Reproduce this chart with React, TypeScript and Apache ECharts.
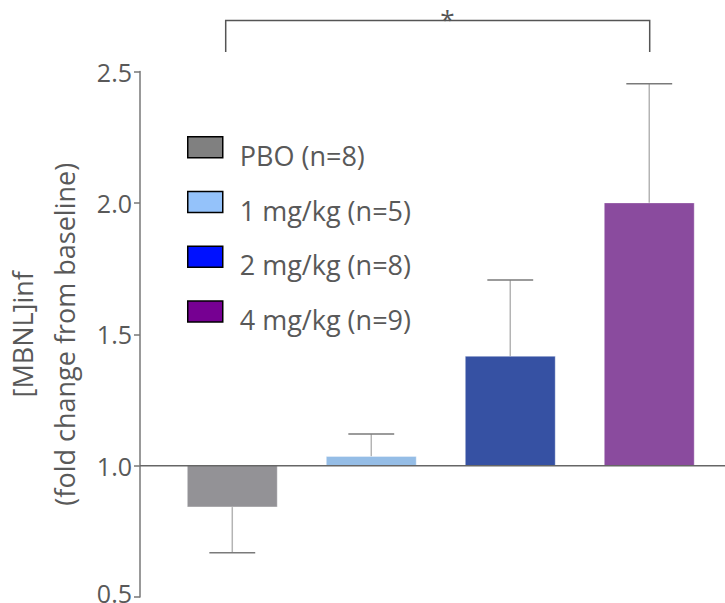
import React, { useEffect, useRef } from "react";
import * as echarts from "echarts";

const GROUPS = ["PBO (n=8)", "1 mg/kg (n=5)", "2 mg/kg (n=8)", "4 mg/kg (n=9)"];
const MEANS = [0.843, 1.035, 1.416, 2.0];
const ERRORS = [0.175, 0.085, 0.29, 0.453];
const BAR_COLORS = ["#939296", "#95bde6", "#3651a3", "#8a4b9e"];
const LEGEND_COLORS = ["#808080", "#94c2fa", "#0011ff", "#760092"];
const BASELINE = 1.0;
const Y_MIN = 0.5;
const Y_MAX = 2.5;
const Y_STEP = 0.5;
const X_MIN = -0.664;
const X_MAX = 3.545;

const FONT = "'Open Sans', 'Noto Sans', sans-serif";
const TEXT = "#595959";
const BAR_W = 0.647;
const CAP_W = 0.33;

export default function App() {
  const ref = useRef<HTMLDivElement>(null);
  useEffect(() => {
    if (!ref.current) return;
    const chart = echarts.init(ref.current, null, { renderer: "svg" });
    const series: any[] = GROUPS.map((name, i) => ({
      type: "custom",
      name,
      itemStyle: { color: BAR_COLORS[i] },
      data: [[i, MEANS[i], ERRORS[i]]],
      renderItem: (params: any, api: any) => {
        const x = api.value(0);
        const mean = api.value(1);
        const err = api.value(2);
        const sign = mean < BASELINE ? -1 : 1;
        const pBase = api.coord([x, BASELINE]);
        const pTop = api.coord([x, mean]);
        const pTip = api.coord([x, mean + sign * err]);
        const w = api.size([BAR_W, 0])[0];
        const cw = api.size([CAP_W, 0])[0];
        const y0 = Math.min(pBase[1], pTop[1]);
        const h = Math.abs(pBase[1] - pTop[1]);
        return {
          type: "group",
          children: [
            {
              type: "line",
              shape: { x1: pTop[0], y1: pTop[1], x2: pTip[0], y2: pTip[1] },
              style: { stroke: "#b4b4b4", lineWidth: 1.5 },
            },
            {
              type: "line",
              shape: { x1: pTip[0] - cw / 2, y1: pTip[1], x2: pTip[0] + cw / 2, y2: pTip[1] },
              style: { stroke: "#7a7a7a", lineWidth: 1.5 },
            },
            {
              type: "rect",
              shape: { x: pTop[0] - w / 2, y: y0, width: w, height: h },
              style: { fill: BAR_COLORS[i], stroke: "rgba(255,255,255,0.35)", lineWidth: 1 },
            },
          ],
        };
      },
    }));
    series.push({
      type: "line",
      name: "baseline",
      silent: true,
      symbol: "none",
      data: [
        [X_MIN, BASELINE],
        [X_MAX, BASELINE],
      ],
      lineStyle: { color: "#666666", width: 1.5 },
      z: 5,
    });

    chart.setOption({
      animation: false,
      grid: {
        left: 140,
        right: 0,
        top: 71.5,
        bottom: 6,
        containLabel: false,
        outerBoundsMode: "none",
      },
      xAxis: {
        type: "value",
        min: X_MIN,
        max: X_MAX,
        show: false,
      },
      yAxis: {
        type: "value",
        min: Y_MIN,
        max: Y_MAX,
        interval: Y_STEP,
        name: "[MBNL]inf\n(fold change from baseline)",
        nameLocation: "middle",
        nameRotate: 90,
        nameGap: 45,
        nameTextStyle: { fontFamily: FONT, fontSize: 27, color: TEXT, lineHeight: 42 },
        axisLine: { show: true, onZero: false, lineStyle: { color: "#777777", width: 1.5 } },
        axisTick: { show: true, length: 6, lineStyle: { color: "#777777", width: 1.5 } },
        axisLabel: {
          fontFamily: FONT,
          fontSize: 25,
          color: TEXT,
          margin: 8,
          formatter: (v: number) =>
            v === Y_MIN ? `{low|${v.toFixed(1)}}` : v.toFixed(1),
          rich: {
            low: { fontFamily: FONT, fontSize: 25, color: TEXT, padding: [0, 0, 9, 0] },
          },
        },
        splitLine: { show: false },
      },
      legend: {
        orient: "vertical",
        left: 187,
        top: 136,
        padding: 0,
        itemGap: 22,
        itemWidth: 35,
        itemHeight: 21,
        icon: "rect",
        selectedMode: false,
        formatter: (name: string) => `{t|${name}}`,
        textStyle: {
          fontFamily: FONT,
          fontSize: 27,
          color: TEXT,
          rich: {
            t: {
              fontFamily: FONT,
              fontSize: 27,
              color: TEXT,
              padding: [16, 0, 0, 12],
            },
          },
        },
        data: GROUPS.map((name, i) => ({
          name,
          icon: "rect",
          itemStyle: { color: LEGEND_COLORS[i], borderColor: "#000000", borderWidth: 1.5 },
        })),
      },
      graphic: [
        {
          type: "polyline",
          shape: { points: [[225.7, 52], [225.7, 20.5], [649.7, 20.5], [649.7, 52]] },
          style: { stroke: "#555555", lineWidth: 1.5, fill: "none" },
        },
        {
          type: "text",
          x: 447.5,
          y: 19,
          style: {
            text: "*",
            fontFamily: FONT,
            fontSize: 26,
            fill: "#555555",
            textAlign: "center",
            textVerticalAlign: "middle",
          },
        },
      ],
      series,
    });
    return () => chart.dispose();
  }, []);
  return (
    <div
      ref={ref}
      style={{ position: "absolute", left: 0, top: 0, width: 725, height: 603 }}
    />
  );
}
